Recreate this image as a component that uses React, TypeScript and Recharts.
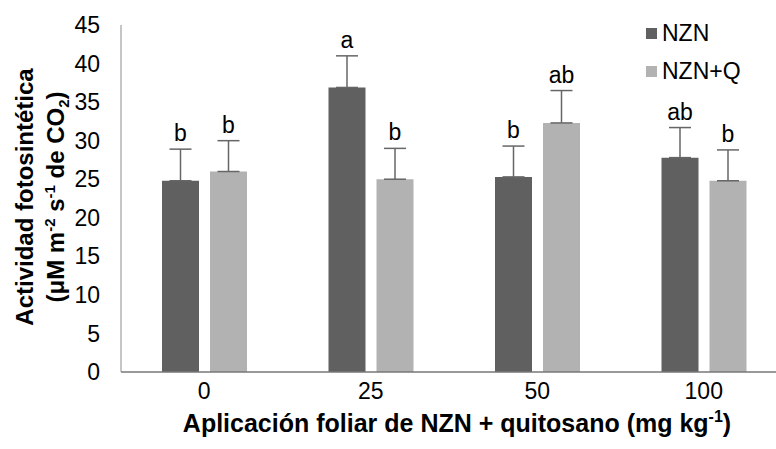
import { Bar, BarChart, ErrorBar, LabelList, XAxis, YAxis } from "recharts";

const doses = ["0", "25", "50", "100"];
const nzn = [24.8, 36.9, 25.3, 27.8];
const nznErr = [4.1, 4.1, 4.0, 3.9];
const nznQ = [26.0, 25.0, 32.3, 24.8];
const nznQErr = [4.0, 4.0, 4.2, 4.0];
const nznLetters = ["b", "a", "b", "ab"];
const nznQLetters = ["b", "b", "ab", "b"];
const yTicks = [0, 5, 10, 15, 20, 25, 30, 35, 40, 45];

const DARK = "#606060";
const LIGHT = "#b2b2b2";
const FONT = "'Liberation Sans', Arial, sans-serif";

const data = doses.map((d, i) => ({
  dose: d,
  nzn: nzn[i],
  nznErr: [0, nznErr[i]],
  nznLetter: nznLetters[i],
  nznQ: nznQ[i],
  nznQErr: [0, nznQErr[i]],
  nznQLetter: nznQLetters[i],
}));

// letter sits above the error bar cap; error converted with the bar's own px/unit
function letterLabel(values: number[], errs: number[]) {
  return (props: any) => {
    const { x, y, width, height, value, index } = props;
    const pxPerUnit = height / values[index];
    const capY = y - errs[index] * pxPerUnit;
    return (
      <text
        x={x + width / 2}
        y={capY - 8}
        textAnchor="middle"
        fontSize={23}
        fontFamily={FONT}
        fill="#000"
      >
        {value}
      </text>
    );
  };
}

function YTitle() {
  return (
    <g transform="translate(0,197) rotate(-90)" fontFamily={FONT} fontWeight="bold" fontSize={24} fill="#000">
      <text x={0} y={33} textAnchor="middle">
        Actividad fotosintética
      </text>
      <text x={0} y={64} textAnchor="middle">
        (μM m<tspan fontSize={15} dy={-9}>-2</tspan>
        <tspan dy={9}> s</tspan>
        <tspan fontSize={15} dy={-9}>-1</tspan>
        <tspan dy={9}> de CO</tspan>
        <tspan fontSize={15} dy={5}>2</tspan>
        <tspan dy={-5}>)</tspan>
      </text>
    </g>
  );
}

function XTitle() {
  return (
    <text x={457} y={432} textAnchor="middle" fontFamily={FONT} fontWeight="bold" fontSize={25} fill="#000">
      Aplicación foliar de NZN + quitosano (mg kg<tspan fontSize={16} dy={-10}>-1</tspan>
      <tspan dy={10}>)</tspan>
    </text>
  );
}

function LegendBox() {
  const items = [
    { label: "NZN", color: DARK },
    { label: "NZN+Q", color: LIGHT },
  ];
  return (
    <div style={{ position: "absolute", left: 646, top: 14, fontFamily: FONT, fontSize: 23, color: "#000" }}>
      {items.map((it) => (
        <div key={it.label} style={{ display: "flex", alignItems: "center", height: 38 }}>
          <span style={{ width: 11, height: 11, background: it.color, marginRight: 5, display: "inline-block" }} />
          {it.label}
        </div>
      ))}
    </div>
  );
}

export default function App() {
  return (
    <div style={{ position: "absolute", left: 0, top: 0, width: 776, height: 449, overflow: "hidden", background: "#fff" }}>
      <BarChart
        width={800}
        height={449}
        data={data}
        margin={{ top: 25, right: 13, bottom: 37, left: 60 }}
        barSize={37}
        barGap={11}
      >
        <XAxis
          dataKey="dose"
          tickLine={false}
          tickSize={0}
          tickMargin={11}
          axisLine={{ stroke: "#777", strokeWidth: 1.5 }}
          tick={{ fontSize: 23, fontFamily: FONT, fill: "#000" }}
          height={40}
        />
        <YAxis
          domain={[0, 45]}
          ticks={yTicks}
          interval={0}
          width={61}
          tickLine={false}
          tickSize={0}
          tickMargin={21}
          axisLine={{ stroke: "#8c8c8c" }}
          tick={{ fontSize: 23, fontFamily: FONT, fill: "#000" }}
        />
        <Bar dataKey="nzn" name="NZN" fill={DARK} isAnimationActive={false}>
          <ErrorBar dataKey="nznErr" width={11} stroke="#666" strokeWidth={1.5} direction="y" />
          <LabelList dataKey="nznLetter" content={letterLabel(nzn, nznErr)} />
        </Bar>
        <Bar dataKey="nznQ" name="NZN+Q" fill={LIGHT} isAnimationActive={false}>
          <ErrorBar dataKey="nznQErr" width={11} stroke="#666" strokeWidth={1.5} direction="y" />
          <LabelList dataKey="nznQLetter" content={letterLabel(nznQ, nznQErr)} />
        </Bar>
        <YTitle />
        <XTitle />
      </BarChart>
      <LegendBox />
    </div>
  );
}
